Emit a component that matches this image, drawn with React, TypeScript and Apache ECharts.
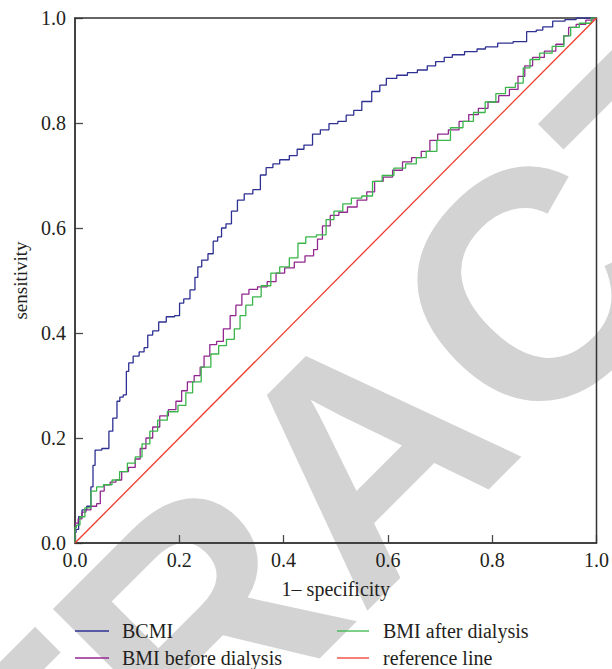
import React, { useEffect, useRef } from "react";
import * as echarts from "echarts";

const bcmiX = [0, 0, 0.004, 0.01, 0.017, 0.028, 0.033, 0.036, 0.041, 0.062, 0.068, 0.077, 0.084, 0.088, 0.097, 0.1, 0.106, 0.117, 0.129, 0.136, 0.143, 0.155, 0.166, 0.184, 0.198, 0.203, 0.214, 0.227, 0.233, 0.238, 0.248, 0.262, 0.268, 0.279, 0.283, 0.296, 0.304, 0.319, 0.33, 0.352, 0.359, 0.374, 0.385, 0.4, 0.422, 0.43, 0.448, 0.463, 0.478, 0.496, 0.512, 0.528, 0.541, 0.559, 0.579, 0.59, 0.604, 0.63, 0.645, 0.668, 0.683, 0.7, 0.716, 0.731, 0.763, 0.779, 0.795, 0.826, 0.854, 0.878, 0.891, 0.903, 0.929, 0.95, 0.972, 1];
const bcmiY = [0, 0.02, 0.026, 0.05, 0.063, 0.07, 0.107, 0.148, 0.177, 0.18, 0.213, 0.238, 0.27, 0.278, 0.282, 0.327, 0.343, 0.356, 0.364, 0.372, 0.396, 0.404, 0.421, 0.431, 0.433, 0.457, 0.465, 0.482, 0.506, 0.526, 0.539, 0.551, 0.575, 0.583, 0.6, 0.608, 0.632, 0.653, 0.665, 0.673, 0.701, 0.715, 0.722, 0.73, 0.738, 0.75, 0.758, 0.779, 0.787, 0.799, 0.803, 0.815, 0.824, 0.841, 0.86, 0.872, 0.885, 0.891, 0.896, 0.901, 0.909, 0.917, 0.925, 0.93, 0.936, 0.941, 0.945, 0.952, 0.955, 0.974, 0.977, 0.983, 0.994, 0.997, 1, 1];

const beforeX = [0, 0.002, 0.01, 0.017, 0.025, 0.036, 0.047, 0.05, 0.062, 0.073, 0.084, 0.095, 0.11, 0.121, 0.129, 0.143, 0.155, 0.17, 0.188, 0.199, 0.21, 0.221, 0.236, 0.244, 0.251, 0.266, 0.277, 0.292, 0.303, 0.314, 0.326, 0.341, 0.359, 0.378, 0.393, 0.411, 0.43, 0.452, 0.463, 0.467, 0.482, 0.497, 0.515, 0.53, 0.552, 0.567, 0.582, 0.6, 0.618, 0.638, 0.653, 0.675, 0.686, 0.705, 0.727, 0.746, 0.764, 0.783, 0.801, 0.824, 0.842, 0.857, 0.868, 0.887, 0.913, 0.931, 0.943, 0.95, 0.972, 0.987, 1];
const beforeY = [0, 0.038, 0.046, 0.059, 0.063, 0.07, 0.075, 0.099, 0.111, 0.116, 0.12, 0.136, 0.144, 0.16, 0.18, 0.2, 0.221, 0.242, 0.254, 0.27, 0.29, 0.307, 0.319, 0.335, 0.356, 0.378, 0.384, 0.408, 0.433, 0.453, 0.474, 0.483, 0.488, 0.498, 0.514, 0.524, 0.535, 0.547, 0.559, 0.579, 0.604, 0.624, 0.63, 0.64, 0.653, 0.669, 0.689, 0.697, 0.71, 0.726, 0.734, 0.746, 0.767, 0.779, 0.787, 0.803, 0.816, 0.828, 0.84, 0.852, 0.864, 0.889, 0.909, 0.925, 0.937, 0.95, 0.966, 0.982, 0.988, 0.996, 1];

const afterX = [0, 0, 0.006, 0.013, 0.025, 0.036, 0.047, 0.062, 0.08, 0.091, 0.11, 0.121, 0.136, 0.151, 0.166, 0.188, 0.207, 0.218, 0.233, 0.251, 0.27, 0.281, 0.3, 0.311, 0.322, 0.333, 0.348, 0.366, 0.385, 0.4, 0.422, 0.433, 0.452, 0.474, 0.489, 0.504, 0.523, 0.537, 0.563, 0.578, 0.6, 0.623, 0.645, 0.664, 0.683, 0.705, 0.735, 0.753, 0.775, 0.798, 0.816, 0.835, 0.854, 0.865, 0.88, 0.902, 0.928, 0.947, 0.954, 0.98, 1];
const afterY = [0, 0.03, 0.034, 0.05, 0.067, 0.099, 0.107, 0.111, 0.12, 0.136, 0.152, 0.164, 0.189, 0.213, 0.234, 0.25, 0.262, 0.286, 0.307, 0.335, 0.36, 0.376, 0.388, 0.408, 0.433, 0.453, 0.469, 0.49, 0.514, 0.526, 0.543, 0.571, 0.583, 0.587, 0.616, 0.632, 0.646, 0.657, 0.661, 0.689, 0.7, 0.714, 0.722, 0.734, 0.746, 0.767, 0.791, 0.803, 0.82, 0.84, 0.856, 0.868, 0.876, 0.905, 0.921, 0.933, 0.946, 0.966, 0.982, 0.99, 1];

const refX = [0, 1];
const refY = [0, 1];

const seriesNames = ["BCMI", "BMI before dialysis", "BMI after dialysis", "reference line"];
const seriesColors = ["#2e3192", "#92278f", "#39b54a", "#ef3b2c"];

const zip = (xs: number[], ys: number[]) => {
  const n = Math.min(xs.length, ys.length);
  const out: number[][] = [];
  for (let i = 0; i < n; i++) out.push([xs[i], ys[i]]);
  return out;
};

const SERIF = '"Liberation Serif", "Times New Roman", serif';

export default function App() {
  const ref = useRef<HTMLDivElement>(null);
  useEffect(() => {
    document.body.style.margin = "0";
    if (!ref.current) return;
    const chart = echarts.init(ref.current, undefined, { renderer: "svg" });
    const axisColor = "#4a4a4a";
    const lineSeries = (name: string, xs: number[], ys: number[], color: string, step: any) => ({
      name,
      type: "line",
      data: zip(xs, ys),
      step,
      symbol: "none",
      showSymbol: false,
      lineStyle: { color, width: 1.3 },
      itemStyle: { color },
      z: 3,
    });
    const legendItem = (name: string, left: number, top: number, w: number, pad: number) => ({
      data: [name],
      orient: "horizontal",
      left,
      top,
      padding: 0,
      itemWidth: w,
      itemHeight: 14,
      icon: `path://M0,6 L${w},6 L${w},7.3 L0,7.3 Z`,
      textStyle: { fontFamily: SERIF, fontSize: 20, lineHeight: 20, color: "#231f20", padding: [0, 0, 0, pad] },
    });
    chart.setOption({
      animation: false,
      backgroundColor: "#ffffff",
      textStyle: { fontFamily: SERIF },
      grid: {
        left: 75,
        right: 13,
        top: 18,
        bottom: 126,
        containLabel: false,
        show: true,
        borderColor: "#333333",
        borderWidth: 1.5,
        backgroundColor: "transparent",
        z: 1,
      },
      graphic: [
        {
          type: "text",
          x: 365,
          y: 454,
          rotation: Math.PI / 4,
          z: -10,
          zlevel: 0,
          silent: true,
          style: {
            text: "RETRACTED",
            font: 'bold 325px "Liberation Sans", Arial, sans-serif',
            fill: "#d3d3d3",
            align: "center",
            verticalAlign: "middle",
            textAlign: "center",
            textVerticalAlign: "middle",
          },
        },
      ],
      legend: [
        legendItem(seriesNames[0], 75, 621, 34, 8),
        legendItem(seriesNames[1], 75, 648, 34, 8),
        legendItem(seriesNames[2], 337, 621, 32, 9),
        legendItem(seriesNames[3], 337, 648, 32, 9),
      ],
      xAxis: {
        type: "value",
        min: 0,
        max: 1,
        interval: 0.2,
        name: "1\u2013 specificity",
        nameLocation: "middle",
        nameGap: 36,
        nameTextStyle: { fontFamily: SERIF, fontSize: 20, color: "#231f20" },
        axisLine: { show: true, lineStyle: { color: axisColor, width: 1.5 } },
        axisTick: { show: true, inside: true, length: 8, lineStyle: { color: axisColor, width: 1.3 } },
        axisLabel: {
          fontFamily: SERIF,
          fontSize: 20,
          color: "#231f20",
          margin: 7,
          formatter: (v: number) => v.toFixed(1),
        },
        splitLine: { show: false },
      },
      yAxis: {
        type: "value",
        min: 0,
        max: 1,
        interval: 0.2,
        name: "sensitivity",
        nameLocation: "middle",
        nameGap: 44,
        nameTextStyle: { fontFamily: SERIF, fontSize: 19, color: "#231f20" },
        axisLine: { show: true, lineStyle: { color: axisColor, width: 1.5 } },
        axisTick: { show: true, inside: true, length: 8, lineStyle: { color: axisColor, width: 1.3 } },
        axisLabel: {
          fontFamily: SERIF,
          fontSize: 20,
          color: "#231f20",
          margin: 9,
          formatter: (v: number) => v.toFixed(1),
        },
        splitLine: { show: false },
      },
      series: [
        lineSeries(seriesNames[0], bcmiX, bcmiY, seriesColors[0], "middle"),
        lineSeries(seriesNames[1], beforeX, beforeY, seriesColors[1], "middle"),
        lineSeries(seriesNames[2], afterX, afterY, seriesColors[2], "middle"),
        lineSeries(seriesNames[3], refX, refY, seriesColors[3], false),
      ],
    });
    return () => chart.dispose();
  }, []);
  return <div ref={ref} style={{ width: 612, height: 669 }} />;
}
